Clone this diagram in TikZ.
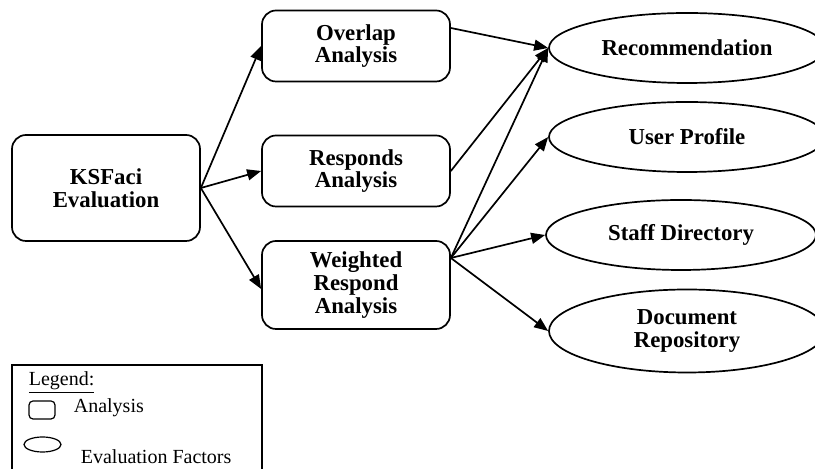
\documentclass[tikz,border=0pt]{standalone}
\usepackage{fontspec}
\setmainfont{Liberation Serif}
\usepackage{tikz}
\usetikzlibrary{shapes}
\usetikzlibrary{arrows.meta}
\usetikzlibrary{positioning}

\begin{document}
\begin{tikzpicture}[
                x = 0.5pt, y = -0.5pt,
                line width = 0.85pt,
                every node/.style = {align = center, inner sep = 0pt},
                anbox/.style = {draw, rounded corners = 7pt,
                  minimum width = 94pt, minimum height = 35.5pt,
                  font = \bfseries\fontsize{11.4}{11.4}\selectfont},
                factor/.style = {draw, ellipse, minimum width = 138pt,
                  minimum height = 35pt,
                  font = \bfseries\fontsize{11.4}{11.4}\selectfont},
                legtext/.style = {anchor = west,
                  font = \fontsize{10}{10}\selectfont},
                arr/.style = {-{Triangle[length = 7pt, width = 5.5pt]}}
                ]
                \useasboundingbox (0,0) rectangle (815,469);

                % Analysis boxes
                \node[anbox, minimum height = 53pt] (ksf) at (106,188)
                      {KSFaci\\Evaluation};
                \node[anbox] (ovl) at (356,46)  {Overlap\\Analysis};
                \node[anbox] (rsp) at (356,171) {Responds\\Analysis};
                \node[anbox, minimum height = 44pt] (wra) at (356,285)
                      {Weighted\\Respond\\Analysis};

                % Evaluation factors
                \node[factor] (rec) at (687,48)  {Recommendation};
                \node[factor] (usr) at (687,137) {User Profile};
                \node[factor, minimum width = 135pt] (stf) at (681,235)
                      {Staff Directory};
                \node[factor, minimum height = 41.5pt] (doc) at (687,331)
                      {Document\\Repository};

                % Connectors
                \draw[arr] (ksf.east) -- (ovl.west);
                \draw[arr] (ksf.east) -- (rsp.west);
                \draw[arr] (ksf.east) -- ([yshift = -2pt]wra.west);
                \draw[arr] ([yshift = 9pt]ovl.east) -- (rec.west);
                \draw[arr] (rsp.east) -- (rec.west);
                \foreach \f in {rec, usr, stf, doc}
                  \draw[arr] ([yshift = 13.5pt]wra.east) -- (\f.west);

                % Legend
                \draw[line width = 0.6pt] (12,365) rectangle (262,480);
                \node[legtext] (leg) at (28,383) {\underline{Legend:}};
                \node[draw, rounded corners = 2pt, line width = 0.6pt,
                      minimum width = 13pt, minimum height = 9pt] (legbox)
                      at (42,410) {};
                \node[legtext] (legan) at (73,408) {Analysis};
                \node[draw, ellipse, line width = 0.6pt, minimum width = 18.5pt,
                      minimum height = 7.5pt] (legell) at (42.5,444.5) {};
                \node[legtext] (legev) at (80,457) {Evaluation Factors};
\end{tikzpicture}
\end{document}
